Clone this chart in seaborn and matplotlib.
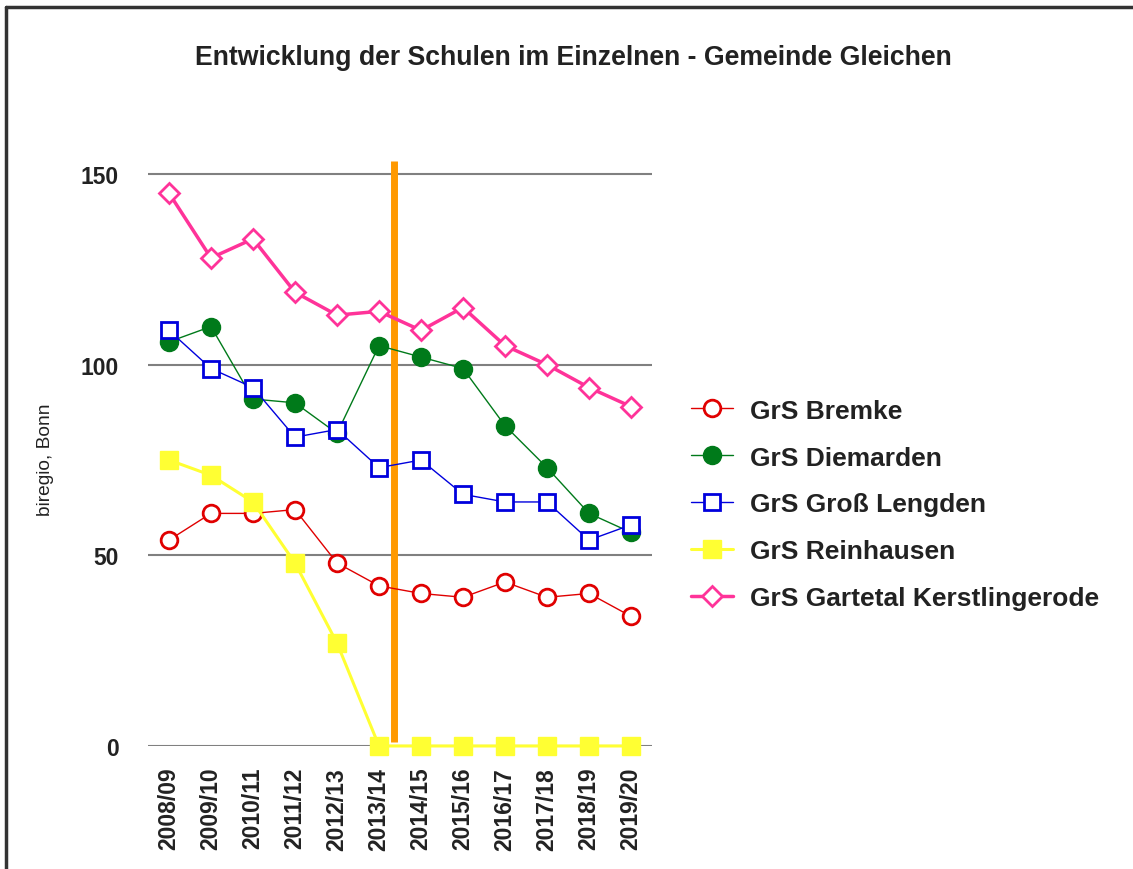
import matplotlib
matplotlib.use("Agg")
import matplotlib.pyplot as plt
import seaborn as sns
import pandas as pd
from matplotlib.lines import Line2D

years = ["2008/09", "2009/10", "2010/11", "2011/12", "2012/13", "2013/14",
         "2014/15", "2015/16", "2016/17", "2017/18", "2018/19", "2019/20"]
bremke = [54, 61, 61, 62, 48, 42, 40, 39, 43, 39, 40, 34]
diemarden = [106, 110, 91, 90, 82, 105, 102, 99, 84, 73, 61, 56]
gross_lengden = [109, 99, 94, 81, 83, 73, 75, 66, 64, 64, 54, 58]
reinhausen = [75, 71, 64, 48, 27, 0, 0, 0, 0, 0, 0, 0]
gartetal = [145, 128, 133, 119, 113, 114, 109, 115, 105, 100, 94, 89]
series_names = ["GrS Bremke", "GrS Diemarden", "GrS Groß Lengden",
                "GrS Reinhausen", "GrS Gartetal Kerstlingerode"]
marker_line_pos = 5.36
marker_line_range = [1, 153.5]

sns.set_theme(style="white")
plt.rcParams['font.family'] = ['Liberation Sans', 'DejaVu Sans']

fig = plt.figure(figsize=(11.33, 8.7), dpi=100)
ax = fig.add_axes([0.1306, 0.1414, 0.5755 - 0.1306, 0.8207 - 0.1414])

styles = [
    dict(color="#e00000", marker="o", mfc="white", mec="#e00000", ms=12, lw=1.0, mew=2.0),
    dict(color="#007a1a", marker="o", mfc="#007a1a", mec="#007a1a", ms=13, lw=1.0, mew=1.0),
    dict(color="#0000dd", marker="s", mfc="white", mec="#0000dd", ms=12, lw=1.0, mew=2.0),
    dict(color="#ffff33", marker="s", mfc="#ffff33", mec="#ffff33", ms=13, lw=2.2, mew=1.0),
    dict(color="#ff3399", marker="D", mfc="white", mec="#ff3399", ms=10, lw=2.5, mew=2.0),
]
all_vals = [bremke, diemarden, gross_lengden, reinhausen, gartetal]

for yv in [0, 50, 100, 150]:
    ax.axhline(yv, color="#808080", lw=1.5, zorder=0)

x = list(range(len(years)))
handles = []
for name, vals, st in zip(series_names, all_vals, styles):
    df = pd.DataFrame({"x": x, "y": vals})
    sns.lineplot(data=df, x="x", y="y", ax=ax, color=st["color"], lw=st["lw"],
                 marker=st["marker"], markersize=st["ms"], markerfacecolor=st["mfc"],
                 markeredgecolor=st["mec"], markeredgewidth=st["mew"], clip_on=False,
                 zorder=3)
    handles.append(Line2D([], [], color=st["color"], lw=st["lw"], marker=st["marker"],
                          markersize=st["ms"], markerfacecolor=st["mfc"],
                          markeredgecolor=st["mec"], markeredgewidth=st["mew"]))

ax.plot([marker_line_pos, marker_line_pos], marker_line_range, color="#ff9900", lw=5,
        zorder=2, solid_capstyle="butt")

ax.set_xlim(-0.5, len(years) - 0.5)
ax.set_ylim(0, 155)
ax.set_xticks(x)
ax.set_xticklabels(years, rotation=90, fontsize=16.5, fontweight="bold")
ax.set_yticks([0, 50, 100, 150])
ax.set_yticklabels(["0", "50", "100", "150"], fontsize=16.5, fontweight="bold")
ax.tick_params(axis="x", pad=15, length=0, colors="#222222")
ax.tick_params(axis="y", pad=21, length=0, colors="#222222")
ax.set_xlabel("")
ax.set_ylabel("")
for s in ax.spines.values():
    s.set_visible(False)

fig.text(45 / 1133, 1 - 460 / 870, "biregio, Bonn", rotation=90, ha="center", va="center",
         fontsize=13.8, color="#222222")

fig.text(573 / 1133, 1 - 58 / 870, "Entwicklung der Schulen im Einzelnen - Gemeinde Gleichen",
         ha="center", va="center", fontsize=19.2, fontweight="bold", color="#222222")

leg = fig.legend(handles, series_names, loc="center left", bbox_to_anchor=(0.589, 0.419),
                 frameon=False, handlelength=1.6, handletextpad=0.65, labelspacing=0.87,
                 prop=dict(weight="bold", size=19))
for t in leg.get_texts():
    t.set_color("#222222")

fig.add_artist(Line2D([6 / 1133, 6 / 1133], [0, 1 - 8 / 870], color="#333333", lw=2.5,
                      transform=fig.transFigure))
fig.add_artist(Line2D([6 / 1133, 1], [1 - 8 / 870, 1 - 8 / 870], color="#333333", lw=2.5,
                      transform=fig.transFigure))

fig.savefig("out.png", dpi=100)
